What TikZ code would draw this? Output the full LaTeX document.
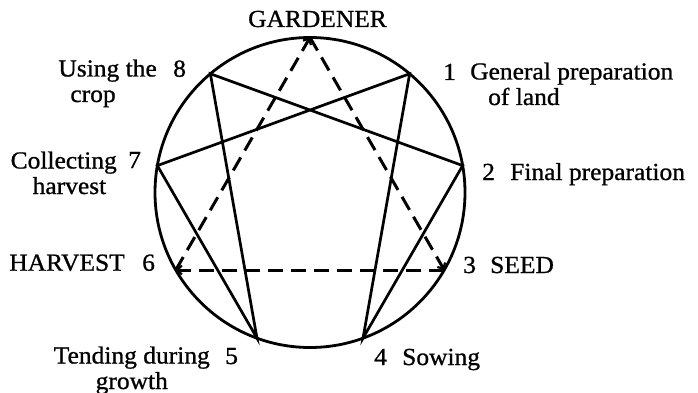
\documentclass[tikz,border=0pt]{standalone}
\usepackage{fontspec}
\setmainfont{Liberation Serif}[FakeStretch=1.04,FakeBold=0.9]
\usetikzlibrary{arrows.meta,calc}
\tikzset{
  lbl/.style={inner sep=0pt, font=\fontsize{24.5}{25.5}\selectfont},
  ring/.style={line width=2.8pt},
  hexline/.style={line width=2.7pt, line join=miter},
  triline/.style={line width=3pt, dash pattern=on 15pt off 8pt,
    -{Straight Barb[length=4.5pt,width=9pt,line width=2.2pt]}},
}
\begin{document}
\begin{tikzpicture}[x=1pt,y=-1pt]
\useasboundingbox (0,0) rectangle (698,393);
\coordinate (c) at (310,192.5);
\foreach \i in {1,...,9}{
  \coordinate (v\i) at ($(c)+(90-40*\i:155pt)$);
}
\draw[ring] (c) circle[radius=155pt];
\draw[hexline] (v1) -- (v4) -- (v2) -- (v8) -- (v5) -- (v7) -- cycle;
\draw[triline] (v9) -- (v3);
\draw[triline] (v3) -- (v6);
\draw[triline] (v6) -- (v9);
% labels
\node[lbl, anchor=base] (gard) at (317.5,27) {GARDENER};
\node[lbl, anchor=base west] (n1) at (443,80) {1};
\node[lbl, anchor=base west, align=left] (t1) at (470,105) {General preparation\\\hspace*{18pt}of land};
\node[lbl, anchor=base west] (n2) at (482,180) {2};
\node[lbl, anchor=base west] (t2) at (510,180) {Final preparation};
\node[lbl, anchor=base west] (n3) at (463,273) {3};
\node[lbl, anchor=base west] (t3) at (490,273) {SEED};
\node[lbl, anchor=base west] (n4) at (374,365) {4};
\node[lbl, anchor=base west] (t4) at (402,365) {Sowing};
\node[lbl, anchor=base west] (n5) at (225,364) {5};
\node[lbl, anchor=base east, align=center] (t5) at (210,389) {Tending during\\growth};
\node[lbl, anchor=base west] (n6) at (142,270.7) {6};
\node[lbl, anchor=base east] (t6) at (125,270.7) {HARVEST};
\node[lbl, anchor=base west] (n7) at (128,168) {7};
\node[lbl, anchor=base east, align=left] (t7) at (117,194) {Collecting\\\hspace*{22pt}harvest};
\node[lbl, anchor=base west] (n8) at (173,76.7) {8};
\node[lbl, anchor=base east, align=left] (t8) at (157,102) {Using the\\\hspace*{12pt}crop};
\end{tikzpicture}
\end{document}
